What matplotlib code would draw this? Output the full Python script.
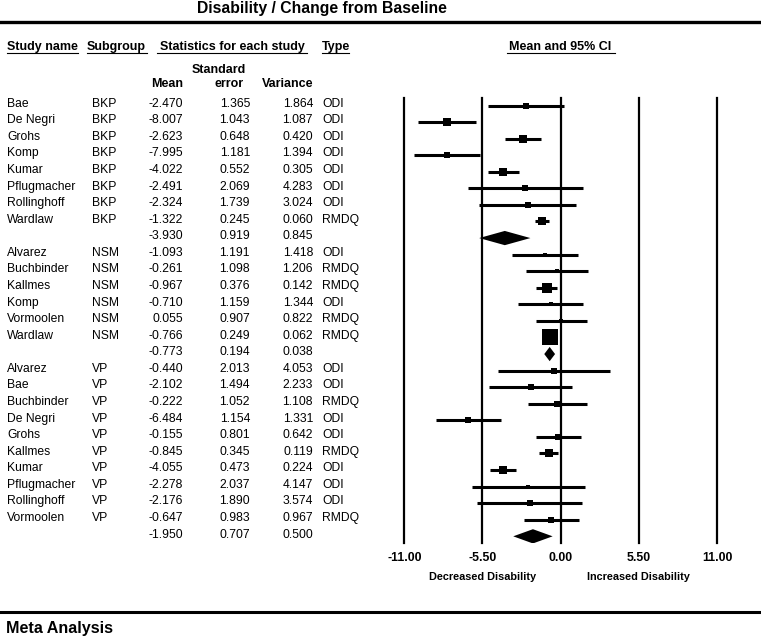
# Forest plot: Disability / Change from Baseline

import numpy as np
import matplotlib
matplotlib.use('Agg')
import matplotlib.pyplot as plt
from matplotlib.lines import Line2D
from matplotlib.transforms import blended_transform_factory

plt.rcParams['font.family'] = 'Liberation Sans'

# =========================================
# Data

study = ['Bae', 'De Negri', 'Grohs', 'Komp', 'Kumar', 'Pflugmacher', 'Rollinghoff', 'Wardlaw',
         'Alvarez', 'Buchbinder', 'Kallmes', 'Komp', 'Vormoolen', 'Wardlaw',
         'Alvarez', 'Bae', 'Buchbinder', 'De Negri', 'Grohs', 'Kallmes', 'Kumar',
         'Pflugmacher', 'Rollinghoff', 'Vormoolen']
subgroup = ['BKP'] * 8 + ['NSM'] * 6 + ['VP'] * 10
mean = [-2.470, -8.007, -2.623, -7.995, -4.022, -2.491, -2.324, -1.322,
        -1.093, -0.261, -0.967, -0.710, 0.055, -0.766,
        -0.440, -2.102, -0.222, -6.484, -0.155, -0.845, -4.055, -2.278, -2.176, -0.647]
se = [1.365, 1.043, 0.648, 1.181, 0.552, 2.069, 1.739, 0.245,
      1.191, 1.098, 0.376, 1.159, 0.907, 0.249,
      2.013, 1.494, 1.052, 1.154, 0.801, 0.345, 0.473, 2.037, 1.890, 0.983]
variance = [1.864, 1.087, 0.420, 1.394, 0.305, 4.283, 3.024, 0.060,
            1.418, 1.206, 0.142, 1.344, 0.822, 0.062,
            4.053, 2.233, 1.108, 1.331, 0.642, 0.119, 0.224, 4.147, 3.574, 0.967]
measure = ['ODI'] * 7 + ['RMDQ',
           'ODI', 'RMDQ', 'RMDQ', 'ODI', 'RMDQ', 'RMDQ',
           'ODI', 'ODI', 'RMDQ', 'ODI', 'ODI', 'RMDQ', 'ODI', 'ODI', 'ODI', 'RMDQ']

groups = ['BKP', 'NSM', 'VP']
group_mean = [-3.930, -0.773, -1.950]
group_se = [0.919, 0.194, 0.707]
group_var = [0.845, 0.038, 0.500]

ticks = [-11, -5.5, 0, 5.5, 11]
tick_labels = ['-11.00', '-5.50', '0.00', '5.50', '11.00']


# =========================================
# Helpers

W, H = 761, 637


def fx(px):
    return px / W


def fy(py):
    return 1 - py / H


def re_weights(y, v):
    # DerSimonian-Laird random effects weights
    y = np.asarray(y)
    v = np.asarray(v)
    w = 1 / v
    m = np.sum(w * y) / np.sum(w)
    q = np.sum(w * (y - m) ** 2)
    c = np.sum(w) - np.sum(w ** 2) / np.sum(w)
    tau2 = max(0.0, (q - (len(y) - 1)) / c)
    wr = 1 / (v + tau2)
    return wr / wr.sum()


# =========================================
# Figure

fig = plt.figure(figsize=(7.61, 6.37), dpi=100)

ROW0 = 105.5
ROWH = 16.57
TOP, BOTTOM = 98, 543

ax = fig.add_axes([fx(404.3), fy(BOTTOM), fx(717) - fx(404.3), (BOTTOM - TOP) / H])
ax.set_xlim(-11, 11)
ax.set_ylim((BOTTOM - ROW0) / ROWH, (TOP - ROW0) / ROWH)
for s in ax.spines.values():
    s.set_visible(False)
ax.set_yticks([])
ax.set_xticks(ticks, labels=tick_labels)
ax.tick_params(axis='x', length=0, pad=6.2)
for lab in ax.get_xticklabels():
    lab.set_fontweight('bold')
    lab.set_fontsize(8.8)

for t in ticks:
    ax.axvline(t, color='k', lw=1.6, clip_on=False)


def row_text(r, name, grp, m, s, v, typ):
    y = fy(ROW0 + r * ROWH - 1.8)
    kw = dict(fontsize=8.7, va='center', color='k')
    fig.text(fx(7), y, name, ha='left', **kw)
    fig.text(fx(92), y, grp, ha='left', **kw)
    fig.text(fx(183), y, f'{m:.3f}', ha='right', **kw)
    fig.text(fx(250), y, f'{s:.3f}', ha='right', **kw)
    fig.text(fx(313), y, f'{v:.3f}', ha='right', **kw)
    fig.text(fx(322), y, typ, ha='left', **kw)


row = 0
for gi, g in enumerate(groups):
    idx = [i for i, sg in enumerate(subgroup) if sg == g]
    rel = re_weights([mean[i] for i in idx], [variance[i] for i in idx])
    for k, i in enumerate(idx):
        lo = mean[i] - 1.96 * se[i]
        hi = mean[i] + 1.96 * se[i]
        ax.plot([lo, hi], [row, row], color='k', lw=2.2, solid_capstyle='butt')
        side_px = 19.5 * np.sqrt(rel[k])
        ax.plot(mean[i], row, marker='s', ms=side_px * 0.72, color='k', mew=0)
        row_text(row, study[i], g, mean[i], se[i], variance[i], measure[i])
        row += 1
    m = group_mean[gi]
    lo = m - 1.96 * group_se[gi]
    hi = m + 1.96 * group_se[gi]
    h = 0.43
    ax.fill([lo, m, hi, m], [row, row - h, row, row + h], color='k', lw=0)
    row_text(row, '', '', m, group_se[gi], group_var[gi], '')
    row += 1

# axis captions
tr = blended_transform_factory(ax.transData, fig.transFigure)
ax.text(-5.5, fy(577), 'Decreased Disability', transform=tr, ha='center', va='center',
        fontsize=7.8, fontweight='bold')
ax.text(5.5, fy(577), 'Increased Disability', transform=tr, ha='center', va='center',
        fontsize=7.8, fontweight='bold')

# title and frame lines
fig.text(fx(322), fy(8), 'Disability / Change from Baseline', ha='center', va='center',
         fontsize=11.3, fontweight='bold')
fig.text(fx(6), fy(628), 'Meta Analysis', ha='left', va='center',
         fontsize=11.6, fontweight='bold')
fig.add_artist(Line2D([0, 1], [fy(22), fy(22)], color='k', lw=2.4))
fig.add_artist(Line2D([0, 1], [fy(612), fy(612)], color='k', lw=2.2))

# column headers
hy = fy(47)
hkw = dict(fontsize=9, fontweight='bold', va='center')
fig.text(fx(7), hy, 'Study name', ha='left', **hkw)
fig.text(fx(87), hy, 'Subgroup', ha='left', **hkw)
fig.text(fx(232), hy, 'Statistics for each study', ha='center', **hkw)
fig.text(fx(322), hy, 'Type', ha='left', **hkw)
fig.text(fx(560.3), hy, 'Mean and 95% CI', ha='center', **hkw)
for x0, x1 in [(7, 78), (87, 147), (157, 307), (322, 349), (507, 615)]:
    fig.add_artist(Line2D([fx(x0), fx(x1)], [fy(53), fy(53)], color='k', lw=0.8))

fig.text(fx(246), fy(70), 'Standard', ha='right', **hkw)
fig.text(fx(183), fy(84), 'Mean', ha='right', **hkw)
fig.text(fx(244), fy(84), 'error', ha='right', **hkw)
fig.text(fx(313), fy(84), 'Variance', ha='right', **hkw)

fig.savefig('out.png', dpi=100)
